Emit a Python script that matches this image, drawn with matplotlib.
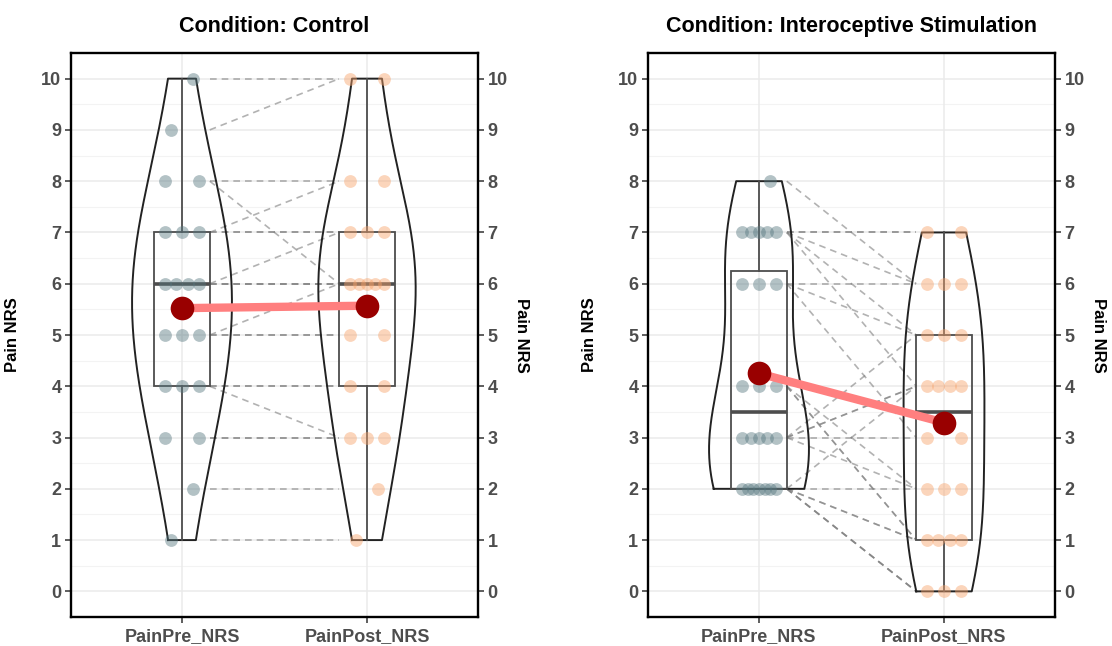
import numpy as np
import matplotlib
from matplotlib import pyplot as plt
from matplotlib.patches import Rectangle

matplotlib.use('Agg')
plt.rcParams['font.family'] = ['Liberation Sans', 'DejaVu Sans']

CONDITIONS = ["Control", "Interoceptive Stimulation"]
CATEGORIES = ["PainPre_NRS", "PainPost_NRS"]
Y_TICKS = list(range(0, 11))

# paired ratings, one entry per participant
control_pre = [10, 9, 8, 8, 7, 7, 7, 6, 6, 6, 6, 5, 5, 5, 4, 4, 4, 3, 3, 2, 1]
control_post = [10, 10, 8, 6, 8, 7, 7, 6, 6, 6, 7, 5, 6, 5, 4, 3, 4, 3, 3, 2, 1]

intero_pre = [8, 7, 7, 7, 7, 7, 6, 6, 6, 4, 4, 4, 3, 3, 3, 3, 3, 2, 2, 2, 2, 2, 2, 2]
intero_post = [6, 7, 7, 6, 5, 4, 6, 5, 3, 2, 1, 1, 5, 4, 4, 3, 2, 2, 1, 1, 0, 0, 0, 4]

PRE_COLOR = "#577880"
POST_COLOR = "#f7a26a"
BOX_COLOR = "#4d4d4d"
TEXT_GREY = "#4d4d4d"


def nrd0(x):
    x = np.asarray(x, float)
    sd = np.std(x, ddof=1)
    q75, q25 = np.percentile(x, [75, 25])
    lo = min(sd, (q75 - q25) / 1.34)
    if lo == 0:
        lo = sd
    return 0.9 * lo * len(x) ** -0.2


def density(x, adjust=1.4):
    x = np.asarray(x, float)
    bw = nrd0(x) * adjust
    grid = np.linspace(x.min(), x.max(), 512)
    d = np.exp(-0.5 * ((grid[:, None] - x[None, :]) / bw) ** 2).sum(axis=1)
    d /= len(x) * bw * np.sqrt(2 * np.pi)
    return grid, d


def spread(values, w=0.09):
    values = np.asarray(values)
    off = np.zeros(len(values))
    for v in np.unique(values):
        idx = np.where(values == v)[0]
        if len(idx) == 1:
            off[idx] = 0.06 if v % 2 == 0 else -0.06
        else:
            order = np.linspace(-w, w, len(idx))
            off[idx] = np.roll(order, int(v) % len(idx))
    return off


def draw_box(ax, x, values):
    q1, med, q3 = np.percentile(values, [25, 50, 75])
    iqr = q3 - q1
    v = np.asarray(values)
    upper = v[v <= q3 + 1.5 * iqr].max()
    lower = v[v >= q1 - 1.5 * iqr].min()
    ax.add_patch(Rectangle((x - 0.15, q1), 0.3, q3 - q1, fill=False,
                           edgecolor=BOX_COLOR, lw=1.3, zorder=4))
    ax.plot([x - 0.15, x + 0.15], [med, med], color=BOX_COLOR, lw=2.6, zorder=4,
            solid_capstyle='butt')
    ax.plot([x, x], [q3, upper], color=BOX_COLOR, lw=1.3, zorder=4)
    ax.plot([x, x], [lower, q1], color=BOX_COLOR, lw=1.3, zorder=4)


def panel(ax, title, pre, post):
    ax.set_xlim(0.4, 2.6)
    ax.set_ylim(-0.5, 10.5)

    # grid
    for y in Y_TICKS:
        ax.axhline(y, color="#ebebeb", lw=1.1, zorder=0)
    for y in np.arange(0.5, 10.5, 1):
        ax.axhline(y, color="#f3f3f3", lw=0.8, zorder=0)
    for x in [1, 2]:
        ax.axvline(x, color="#ebebeb", lw=1.1, zorder=0)

    # paired lines
    for a, b in zip(pre, post):
        ax.plot([1.15, 1.85], [a, b], ls=(0, (4, 3)), color="#7f7f7f", alpha=0.6, lw=1.2, zorder=1)

    # violins, area scaled within panel
    dens = [density(pre), density(post)]
    dmax = max(d.max() for _, d in dens)
    for x, (g, d) in zip([1, 2], dens):
        hw = d / dmax * 0.27
        xs = np.concatenate([x - hw, (x + hw)[::-1], [x - hw[0]]])
        ys = np.concatenate([g, g[::-1], [g[0]]])
        ax.plot(xs, ys, color="#222222", lw=1.4, zorder=3)

    draw_box(ax, 1, pre)
    draw_box(ax, 2, post)

    ax.scatter(1 + spread(pre), pre, s=85, color=PRE_COLOR, alpha=0.45, lw=0, zorder=5)
    ax.scatter(2 + spread(post), post, s=85, color=POST_COLOR, alpha=0.45, lw=0, zorder=5)

    m_pre, m_post = np.mean(pre), np.mean(post)
    ax.plot([1, 2], [m_pre, m_post], color="#ff7f7f", lw=6, zorder=6, solid_capstyle='butt')
    ax.scatter([1, 2], [m_pre, m_post], s=290, color="#990000", lw=0, zorder=7)

    ax.set_title(title, fontsize=15.5, fontweight='bold', pad=15)
    ax.set_xticks([1, 2])
    ax.set_xticklabels(CATEGORIES, fontsize=13, fontweight='bold', color=TEXT_GREY)
    ax.set_yticks(Y_TICKS)
    ax.set_yticklabels([str(t) for t in Y_TICKS], fontsize=13, fontweight='bold', color=TEXT_GREY)
    ax.tick_params(axis='y', left=True, right=True, labelleft=True, labelright=True,
                   length=4, width=1.1, color="#333333", pad=3)
    ax.tick_params(axis='x', length=4, width=1.1, color="#333333", pad=4)
    for s in ax.spines.values():
        s.set_linewidth(1.7)
        s.set_color("black")

    ax.set_ylabel("Pain NRS", fontsize=12, fontweight='bold')
    ax.yaxis.set_label_coords(-0.125, 0.5)
    ax.text(1.108, 0.5, "Pain NRS", rotation=270, transform=ax.transAxes,
            ha='center', va='center', fontsize=12, fontweight='bold')


fig = plt.figure(figsize=(11.12, 6.46), dpi=100)
ax1 = fig.add_axes([71 / 1112, 29 / 646, 407 / 1112, 564 / 646])
ax2 = fig.add_axes([648 / 1112, 29 / 646, 407 / 1112, 564 / 646])

panel(ax1, "Condition: " + CONDITIONS[0], control_pre, control_post)
panel(ax2, "Condition: " + CONDITIONS[1], intero_pre, intero_post)

fig.savefig("out.png", dpi=100)
